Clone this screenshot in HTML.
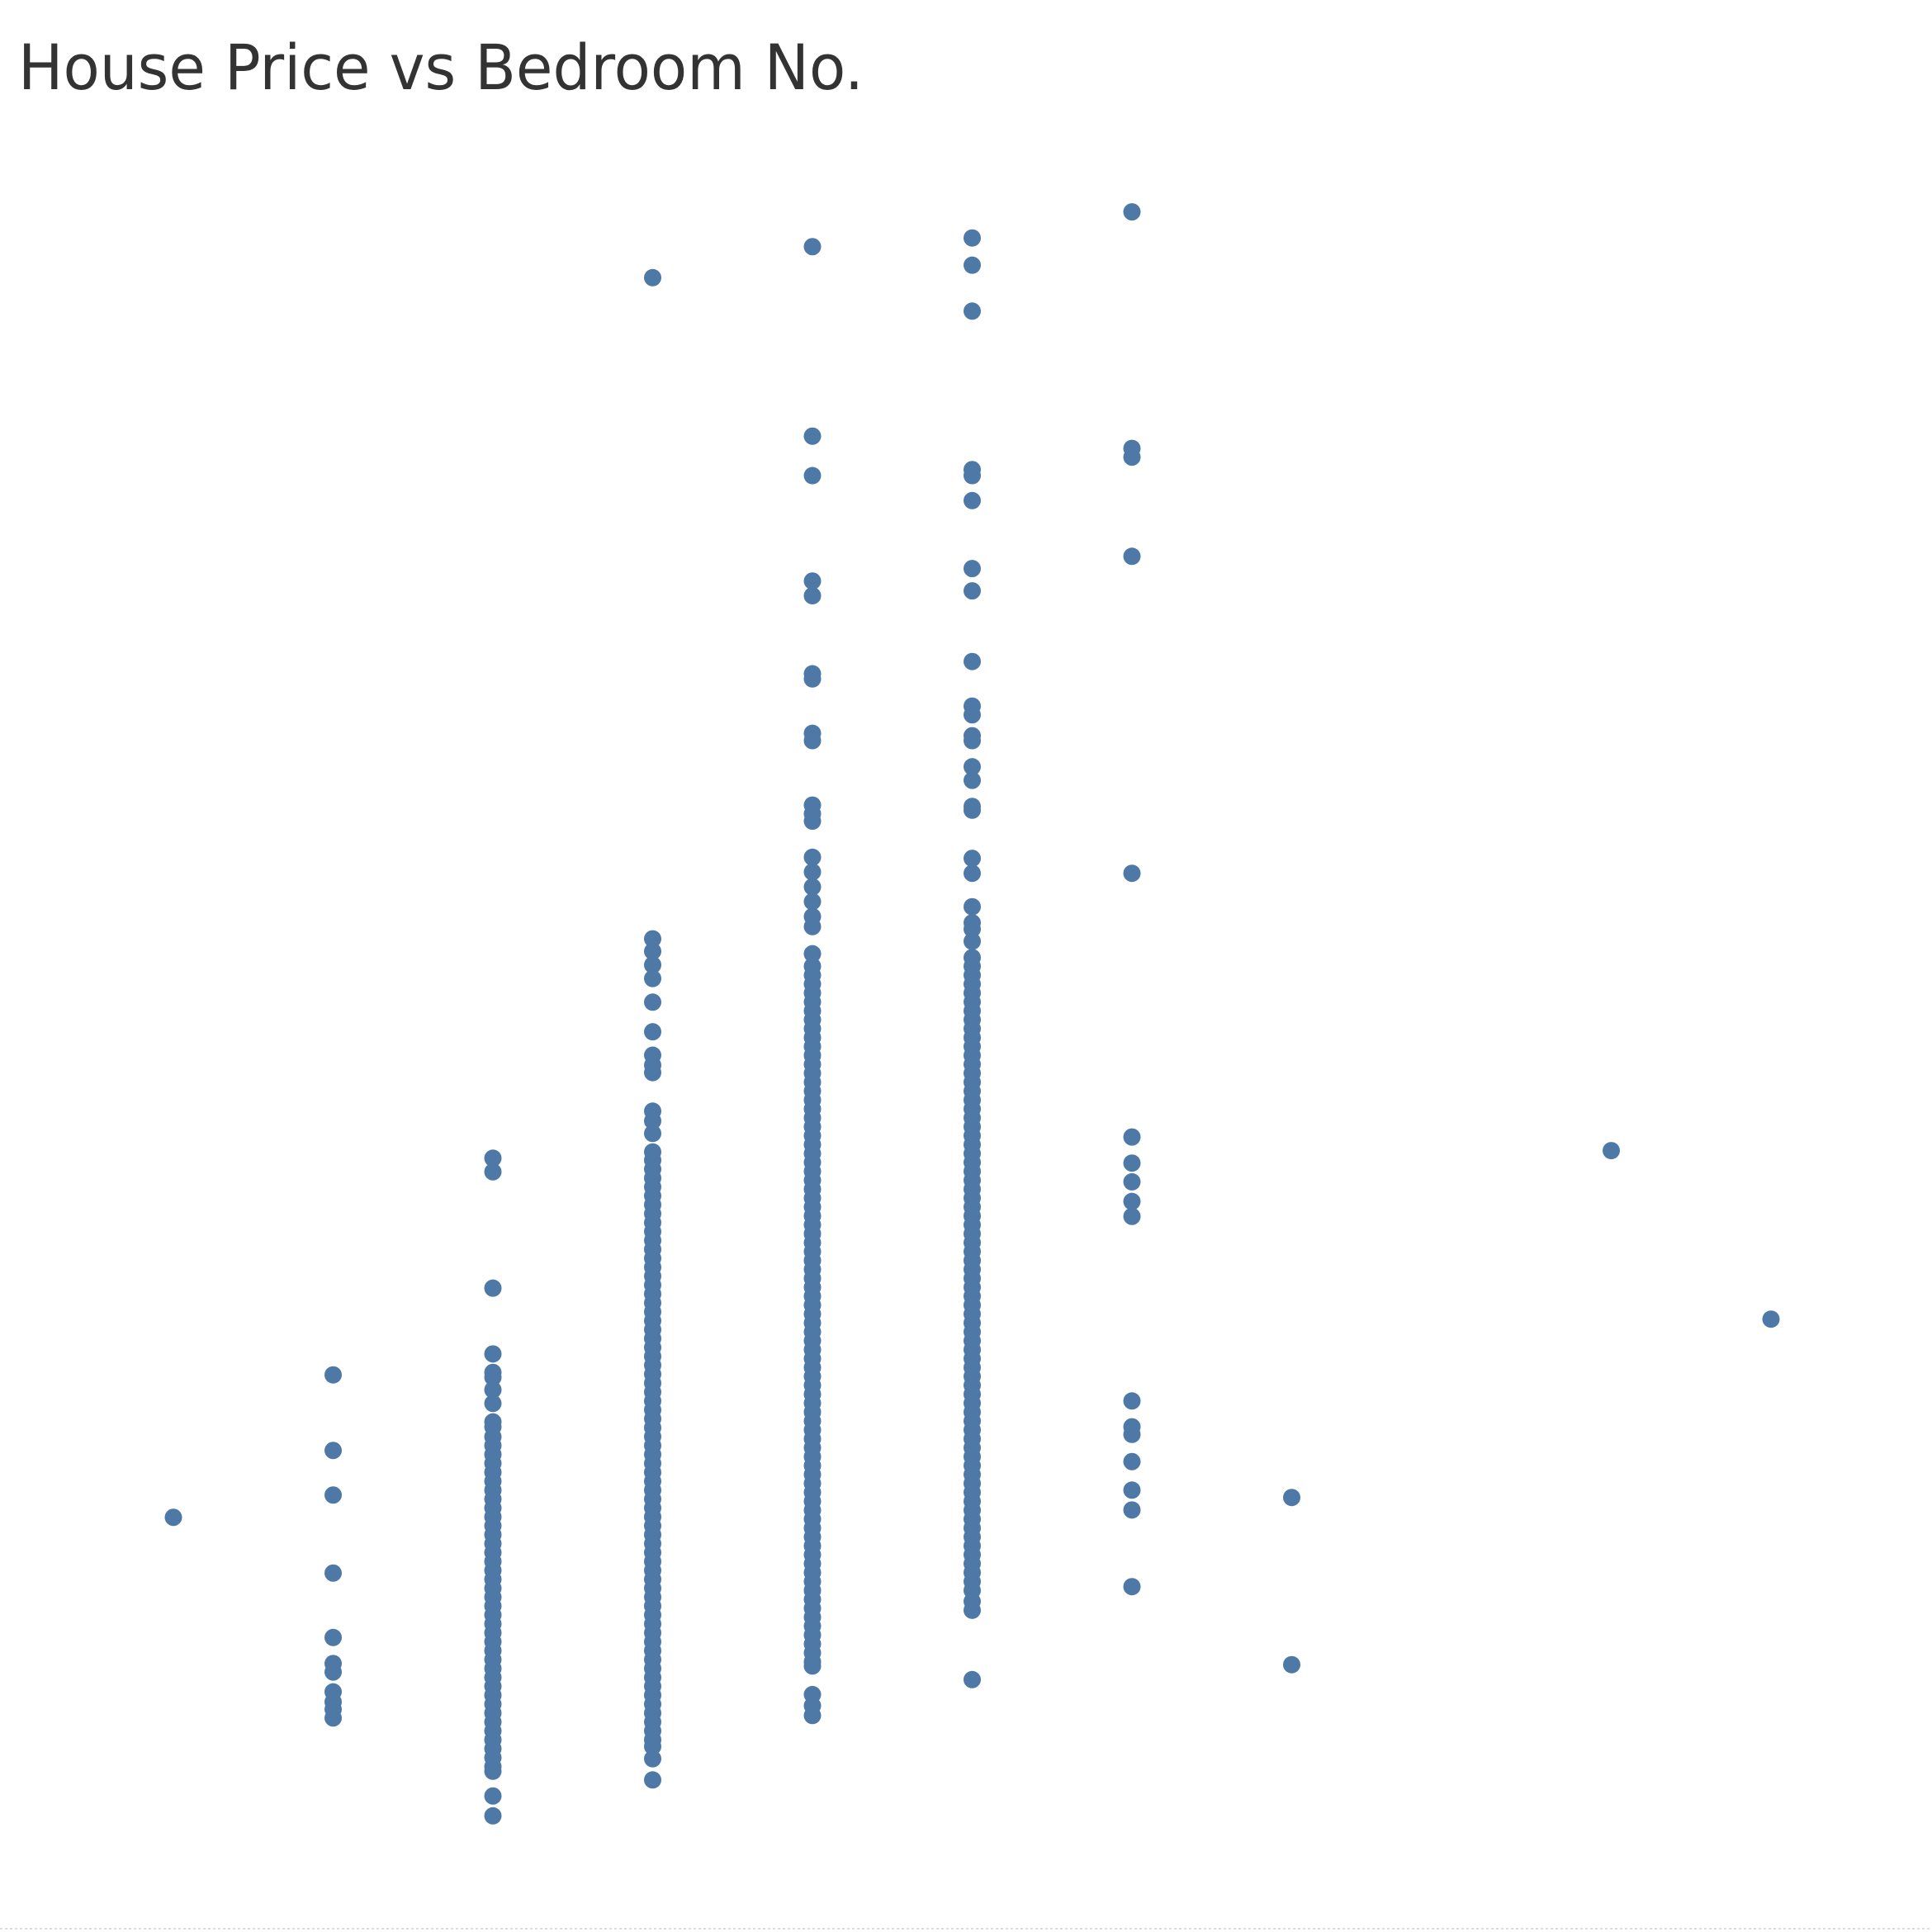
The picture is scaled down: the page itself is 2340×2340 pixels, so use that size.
<!DOCTYPE html>
<html><head><meta charset="utf-8"><title>House Price vs Bedroom No.</title>
<style>html,body{margin:0;padding:0;background:#fff;}svg{display:block;}</style>
</head><body>
<svg id="chart" width="2340" height="2340" viewBox="0 0 2340 2340" xmlns="http://www.w3.org/2000/svg">
<rect width="2340" height="2340" fill="#fff"/>
<text x="22" y="108" font-family="'DejaVu Sans','Liberation Sans',sans-serif" font-size="76" fill="#333" textLength="1024" lengthAdjust="spacingAndGlyphs">House Price vs Bedroom No.</text>
<line x1="0" y1="2336" x2="2340" y2="2336" stroke="#ddd" stroke-width="2" stroke-dasharray="3,3"/>
<g id="marks"></g>
</svg>
<script>
const categories = [0,1,2,3,4,5,6,7,8,9,10];
const prices0 = [1638];
const prices1 = [2277,1938,1738,1388,1099,982,944,855,810,777,738];
const prices2 = [3249,3188,2666,2371,2288,2266,2210,2149,2066,2044,1999,1960,1920,1880,1840,1800,1760,1720,1680,1640,1600,1560,1520,1480,1440,1400,1360,1320,1280,1240,1200,1160,1120,1080,1040,1000,960,920,880,840,800,760,720,680,640,600,560,520,499,388,299];
const prices3 = [7199,4233,4177,4116,4055,3949,3816,3711,3666,3633,3460,3416,3360,3277,3240,3200,3160,3120,3080,3040,3000,2960,2920,2880,2840,2800,2760,2720,2680,2640,2600,2560,2520,2480,2440,2400,2360,2320,2280,2240,2200,2160,2120,2080,2040,2000,1960,1920,1880,1840,1800,1760,1720,1680,1640,1600,1560,1520,1480,1440,1400,1360,1320,1280,1240,1200,1160,1120,1080,1040,1000,960,920,880,840,800,760,720,680,640,610,555,460];
const prices4 = [7338,6488,6311,5838,5772,5422,5399,5155,5122,4833,4794,4761,4599,4533,4466,4400,4333,4288,4166,4110,4070,4030,3990,3950,3910,3870,3830,3790,3750,3710,3670,3630,3590,3550,3510,3470,3430,3390,3350,3310,3270,3230,3190,3150,3110,3070,3030,2990,2950,2910,2870,2830,2790,2750,2710,2670,2630,2590,2550,2510,2470,2430,2390,2350,2310,2270,2230,2190,2150,2110,2070,2030,1990,1950,1910,1870,1830,1790,1750,1710,1670,1630,1590,1550,1510,1470,1430,1390,1350,1310,1270,1230,1190,1150,1110,1070,1030,990,971,843,793,749];
const prices5 = [7377,7255,7049,6338,6311,6199,5894,5794,5477,5277,5238,5144,5122,5005,4944,4827,4810,4594,4527,4377,4305,4277,4222,4149,4110,4070,4030,3990,3950,3910,3870,3830,3790,3750,3710,3670,3630,3590,3550,3510,3470,3430,3390,3350,3310,3270,3230,3190,3150,3110,3070,3030,2990,2950,2910,2870,2830,2790,2750,2710,2670,2630,2590,2550,2510,2470,2430,2390,2350,2310,2270,2230,2190,2150,2110,2070,2030,1990,1950,1910,1870,1830,1790,1750,1710,1670,1630,1590,1550,1510,1470,1430,1390,1350,1310,1261,1221,910];
const prices6 = [7494,6433,6394,5949,4527,3344,3227,3143,3055,2988,2160,2044,2010,1888,1760,1671,1327];
const prices7 = [1727,977];
const prices8 = [];
const prices9 = [3283];
const prices10 = [2527];
const series = [prices0,prices1,prices2,prices3,prices4,prices5,prices6,prices7,prices8,prices9,prices10];

function xScale(c){ return 210 + c * 193.5; }
function yScale(p){ return 2280 - p * 0.27; }

const g = document.getElementById('marks');
const NS = 'http://www.w3.org/2000/svg';
categories.forEach(function(cat, i){
  series[i].forEach(function(p){
    const c = document.createElementNS(NS, 'circle');
    c.setAttribute('cx', xScale(cat));
    c.setAttribute('cy', yScale(p));
    c.setAttribute('r', 10.5);
    c.setAttribute('fill', '#4e79a7');
    
    
    g.appendChild(c);
  });
});
</script>
</body></html>
